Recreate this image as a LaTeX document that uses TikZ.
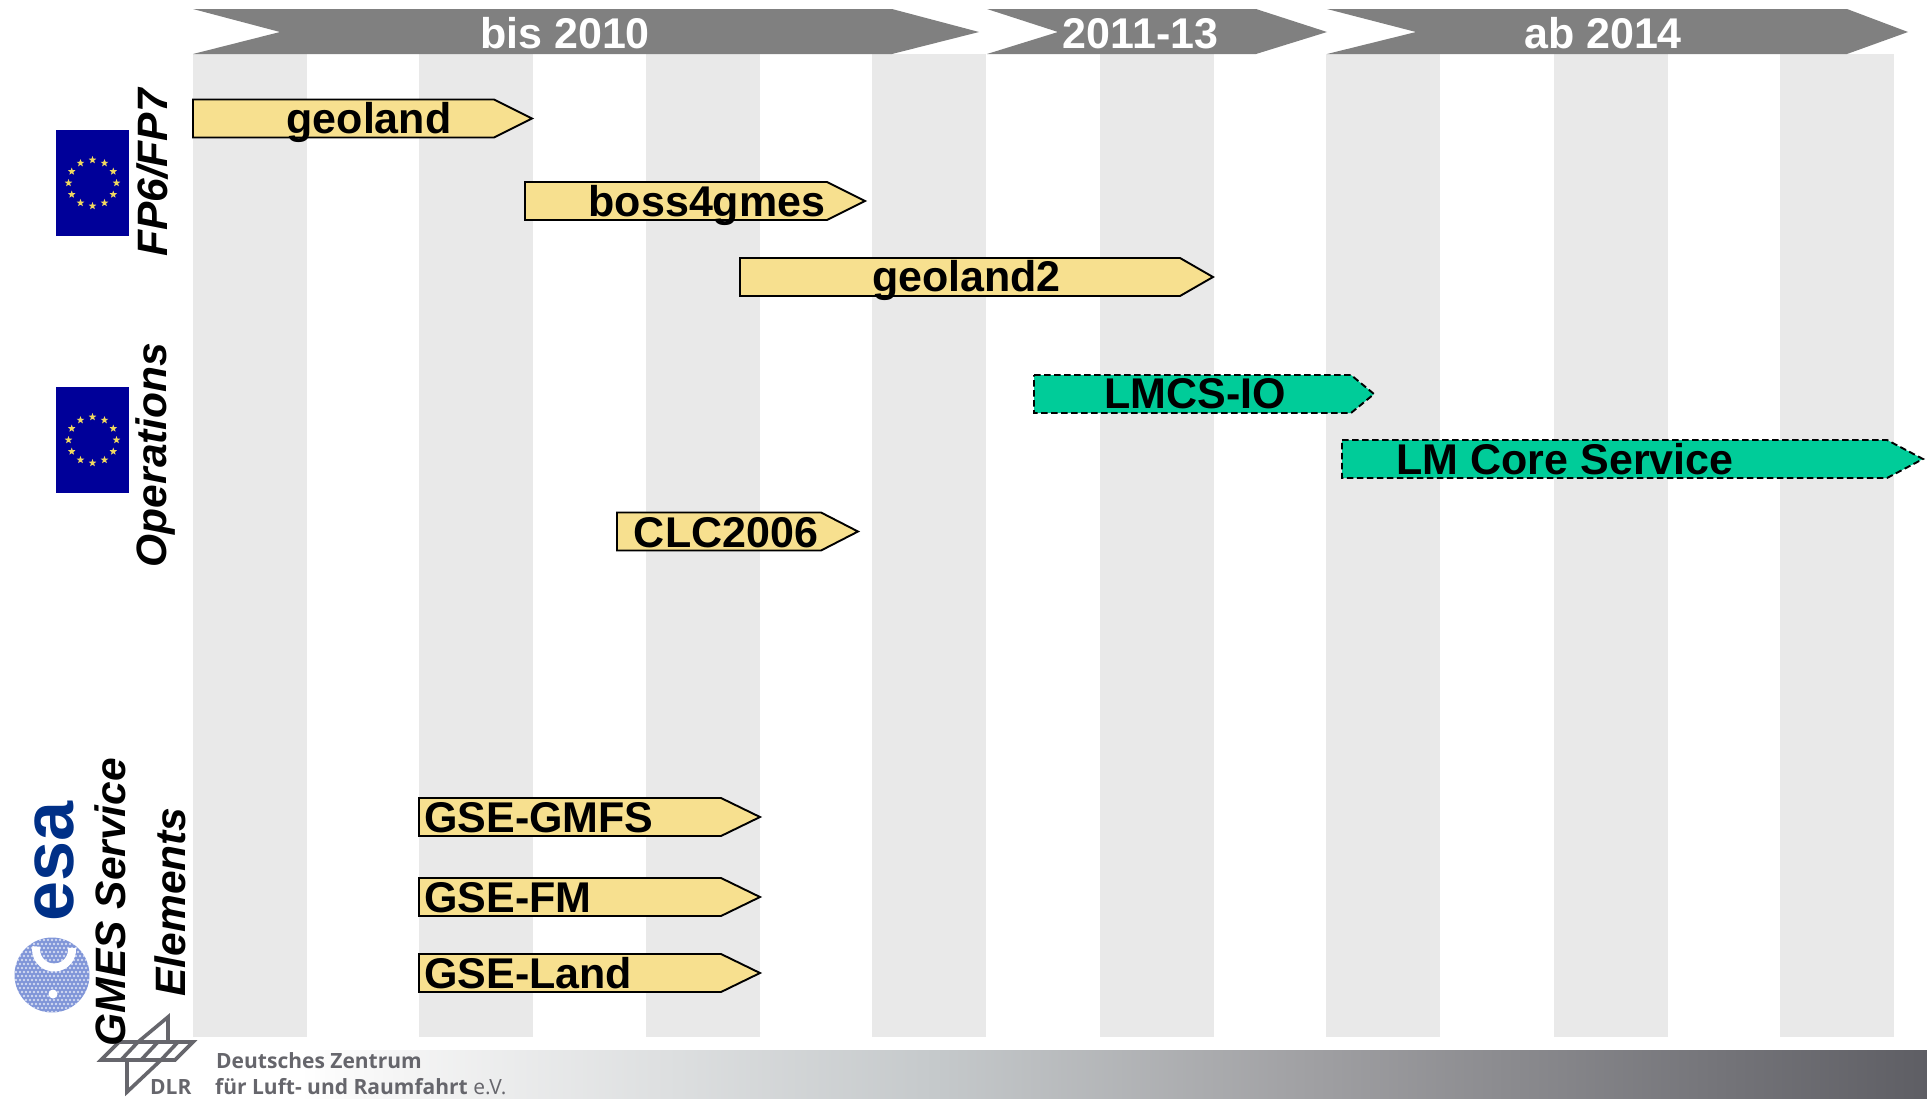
\documentclass[tikz,border=0pt]{standalone}
\usepackage{fontspec}
\setmainfont{Liberation Sans}
\newfontfamily\dlrfont{Open Sans}
\usetikzlibrary{shapes.geometric}
\definecolor{headgray}{HTML}{808080}
\definecolor{bandgray}{HTML}{E9E9E9}
\definecolor{baryellow}{HTML}{F7E08F}
\definecolor{bargreen}{HTML}{00CC99}
\definecolor{eublue}{HTML}{000099}
\definecolor{starcol}{HTML}{F0D860}
\definecolor{esablue}{HTML}{003087}
\definecolor{esalight}{HTML}{7F95D8}
\definecolor{dlrgray}{HTML}{66666C}
\definecolor{gradA}{HTML}{F5F5F5}
\definecolor{gradB}{HTML}{C5C9CB}
\definecolor{gradC}{HTML}{A0A0A3}
\definecolor{gradD}{HTML}{5E5E64}
\pgfdeclarehorizontalshading{dlrband}{100bp}{
  color(0bp)=(white); color(25bp)=(white); color(28bp)=(gradA);
  color(44.5bp)=(gradB);
  color(56bp)=(gradC);
  color(75bp)=(gradD); color(100bp)=(gradD)}
\tikzset{
  bandrect/.style={fill=bandgray,draw=none},
  headshape/.style={fill=headgray,draw=none},
  headtext/.style={anchor=base,text=white,font=\fontsize{43}{43}\selectfont\bfseries,inner sep=0},
  barplain/.style={fill=baryellow,draw=black,line width=1.9pt,line join=miter},
  bardash/.style={fill=bargreen,draw=black,line width=1.9pt,dash pattern=on 6.5pt off 3.5pt},
  barlabel/.style={anchor=base,text=black,font=\fontsize{43}{43}\selectfont\bfseries,inner sep=0},
  sidetext/.style={rotate=90,text=black,font=\fontsize{42.5}{60}\selectfont\bfseries\itshape,inner sep=0,align=center},
  eustar/.style={star,star points=5,star point ratio=2.4,fill=starcol,draw=none,minimum size=8pt,inner sep=0},
  dlrline/.style={draw=dlrgray,line width=3.6pt,line join=miter},
  dlrtext/.style={anchor=base west,text=dlrgray,inner sep=0,font=\fontsize{21}{24}\dlrfont\bfseries},
}
\newcommand{\mybar}[5]{% style, left, headstart, tip, top
  \draw[#1] (#2,#5) -- (#3,#5) -- (#4,#5+19) -- (#3,#5+38) -- (#2,#5+38) -- cycle;
}
\newcommand{\euflag}[3]{% name, cx, cy
  \fill[eublue] (#2-36.5,#3-53) rectangle (#2+36.5,#3+53);
  \foreach \k in {0,30,...,330}
    \node[eustar] (#1s\k) at ({#2+24*cos(\k)},{#3+23*sin(\k)}) {};
}
\begin{document}
\begin{tikzpicture}[x=1pt,y=-1pt]
\useasboundingbox (0,0) rectangle (1927,1098);
% bands
\foreach \xa in {193,419,646,872,1100,1326,1554,1780}
  \fill[bandrect] (\xa,54) rectangle (\xa+113.5,1037);
% bottom gradient
\shade[shading=dlrband,draw=none] (300,1050) rectangle (1927,1098);
% header chevrons
\fill[headshape] (193,9) -- (892,9) -- (979,32) -- (892,54) -- (193,54) -- (280,32) -- cycle;
\fill[headshape] (987,9) -- (1256,9) -- (1327,32) -- (1256,54) -- (987,54) -- (1058,32) -- cycle;
\fill[headshape] (1327,9) -- (1847,9) -- (1908,32) -- (1847,54) -- (1327,54) -- (1416,32) -- cycle;
\node[headtext] (h1) at (565,48.5) {bis 2010};
\node[headtext] (h2) at (1140.5,48.5) {2011-13};
\node[headtext] (h3) at (1603,48.5) {ab 2014};
% bars
\mybar{barplain}{193}{494}{532}{99.5}
\node[barlabel] (b1) at (369,133) {geoland};
\mybar{barplain}{525}{827}{865}{182}
\node[barlabel] (b2) at (707,216) {boss4gmes};
\mybar{barplain}{740}{1180}{1213}{258}
\node[barlabel] (b3) at (966.5,291.5) {geoland2};
\mybar{bardash}{1034}{1351}{1374}{375}
\node[barlabel] (b4) at (1195,408) {LMCS-IO};
\mybar{bardash}{1342}{1887}{1923}{440}
\node[barlabel] (b5) at (1565,474) {LM Core Service};
\mybar{barplain}{617}{821}{858}{512.5}
\node[barlabel] (b6) at (726,547) {CLC2006};
\mybar{barplain}{419}{721}{760}{798}
\node[barlabel,anchor=base west] (b7) at (424,832) {GSE-GMFS};
\mybar{barplain}{419}{721}{760}{878}
\node[barlabel,anchor=base west] (b8) at (424,912) {GSE-FM};
\mybar{barplain}{419}{721}{760}{954}
\node[barlabel,anchor=base west] (b9) at (424,988) {GSE-Land};
% flags
\euflag{fa}{92.5}{183}
\euflag{fb}{92.5}{440}
% esa logo
\node[rotate=90,text=esablue,font=\fontsize{72}{72}\selectfont\bfseries,inner sep=0] (esa) at (54,861) {esa};
\begin{scope}
  \clip (52,975) circle (37.5);
  \fill[esalight] (10,930) rectangle (95,1020);
  \foreach \ix in {0,...,21}
    \foreach \iy in {0,...,22}
      \fill[white,opacity=.65] ({12+4*\ix+2*mod(\iy,2)},{932+4*\iy}) circle (1.35);
\end{scope}
\draw[white,line width=8pt] (72,948) arc[start angle=-5,end angle=190,radius=18];
\fill[white] (53,994) circle (4.5);
% DLR logo
\draw[dlrline] (101,1060) -- (119,1042) -- (193,1042) -- (175,1060) -- cycle;
\draw[dlrline] (121,1060) -- (138,1042);
\draw[dlrline] (141,1060) -- (158,1042);
\draw[dlrline] (161,1060) -- (178,1042);
\draw[dlrline] (138,1042) -- (168,1017) -- (168,1042);
\draw[dlrline] (127,1060) -- (127,1092) -- (161,1060);
\node[dlrtext] (d1) at (216,1068) {Deutsches Zentrum};
\node[dlrtext] (d2) at (215,1094) {für Luft- und Raumfahrt {\mdseries e.V.}};
\node[dlrtext] (d3) at (150,1094) {DLR};
% side labels
\node[sidetext] (s1) at (153,173) {FP6/FP7};
\node[sidetext] (s2) at (156,455) {Operations};
\node[sidetext] (s3) at (140,902) {GMES Service\\Elements};
\end{tikzpicture}
\end{document}
